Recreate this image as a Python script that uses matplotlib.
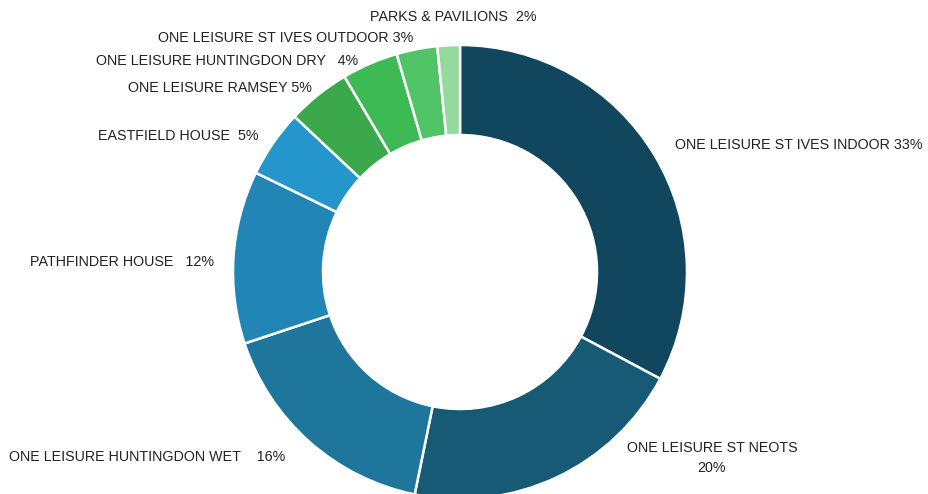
import matplotlib.pyplot as plt

# share of energy use by site, clockwise from 12 o'clock
sites = ['ONE LEISURE ST IVES INDOOR', 'ONE LEISURE ST NEOTS',
         'ONE LEISURE HUNTINGDON WET', 'PATHFINDER HOUSE', 'EASTFIELD HOUSE',
         'ONE LEISURE RAMSEY', 'ONE LEISURE HUNTINGDON DRY',
         'ONE LEISURE ST IVES OUTDOOR', 'PARKS & PAVILIONS']
shares = [32.8, 20.4, 16.7, 12.3, 4.8, 4.5, 4.0, 2.9, 1.6]
pct_labels = [33, 20, 16, 12, 5, 5, 4, 3, 2]
colors = ['#10475f', '#175a76', '#1e769c', '#2185b5', '#2596cb',
          '#3ca84c', '#3eba55', '#52c468', '#94d99e']

# label text and where it sits (pixel coords, ha)
label_fmt = ['{} {}%', '{}\n{}%', '{}    {}%', '{}   {}%', '{}  {}%',
             '{} {}%', '{}   {}%', '{} {}%', '{}  {}%']
label_pos = [(675, 145, 'left'), (712, 458, 'center'), (9, 457, 'left'),
             (30, 262, 'left'), (98, 136, 'left'), (128, 88, 'left'),
             (96, 61, 'left'), (158, 38, 'left'), (370, 17, 'left')]

fig = plt.figure(figsize=(9.29, 4.94), dpi=100)
ax = fig.add_axes([0, 0, 1, 1])

# y axis is flipped below, so -90 is 12 o'clock and "counterclock" runs clockwise
ax.pie(shares, colors=colors, startangle=-90, counterclock=True,
       radius=227, center=(460, 272), frame=True,
       wedgeprops=dict(width=90, edgecolor='white', linewidth=1.8))
ax.set_xlim(0, 929)
ax.set_ylim(494, 0)
ax.set_aspect('equal')
ax.axis('off')

for s, v, fmt, (x, y, ha) in zip(sites, pct_labels, label_fmt, label_pos):
    ax.text(x, y, fmt.format(s, v), ha=ha, va='center', fontsize=10.3,
            family='Liberation Sans', color='#222222', linespacing=1.5)

fig.savefig('out.png', dpi=100)
